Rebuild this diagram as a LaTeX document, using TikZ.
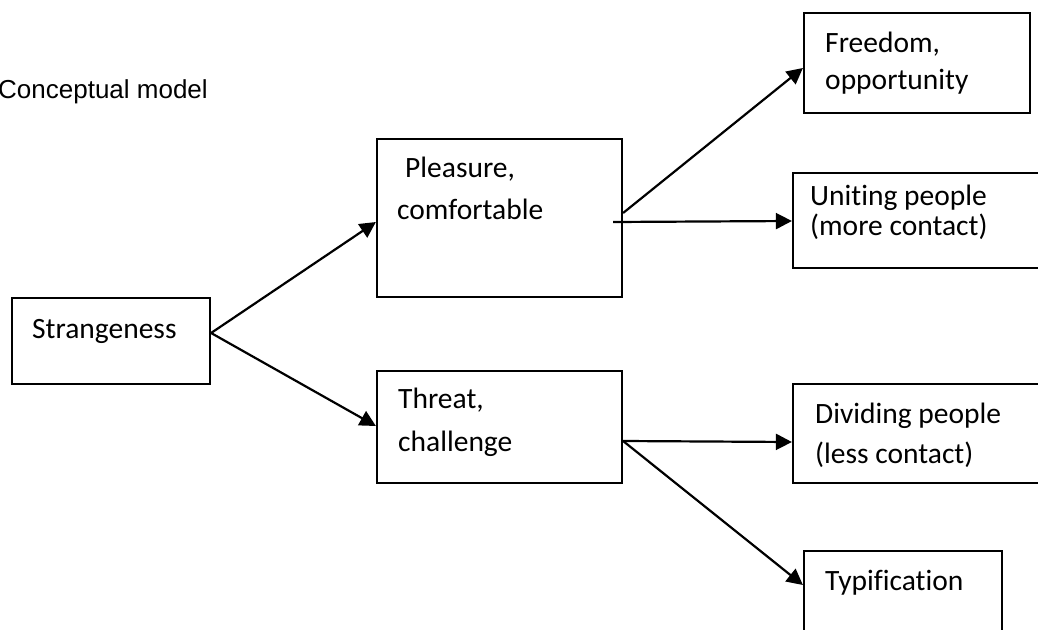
\documentclass[tikz,border=0pt]{standalone}
\usepackage{fontspec}
\setmainfont{Carlito}[Ligatures={NoCommon}]
\newfontfamily\arialfont{Liberation Sans}
\usetikzlibrary{arrows.meta}
\tikzset{
  boxnode/.style={draw=black, line width=2.2pt, rectangle, inner sep=0pt, fill=none},
  txt/.style={anchor=base west, inner sep=0pt, align=left},
  conn/.style={draw=black, line width=2.2pt, -{Triangle[length=16pt,width=16pt]}}
}
\begin{document}
\begin{tikzpicture}[x=1pt,y=-1pt]
\clip (0,0) rectangle (1038,629);
\fill[white] (0,0) rectangle (1038,629);
% title
\node[txt, font=\arialfont\fontsize{26}{30}\selectfont] (title) at (-2,98) {Conceptual model};
% boxes
\node[boxnode, minimum width=198pt, minimum height=86pt] (S) at (111,341) {};
\node[boxnode, minimum width=245pt, minimum height=158pt] (P) at (499.5,218) {};
\node[boxnode, minimum width=245pt, minimum height=112pt] (T) at (499.5,427) {};
\node[boxnode, minimum width=226pt, minimum height=100pt] (F) at (917,63) {};
\node[boxnode, minimum width=257pt, minimum height=95pt] (U) at (921.5,220.5) {};
\node[boxnode, minimum width=257pt, minimum height=99pt] (D) at (921.5,433.5) {};
\node[boxnode, minimum width=198pt, minimum height=99pt] (Ty) at (903,600.5) {};
% texts (anchor is on the baseline of the last line)
\node[txt, font=\fontsize{29.5}{42}\selectfont] (Stxt) at (32,338) {Strangeness};
\node[txt, font=\fontsize{29.5}{42}\selectfont] (Ptxt) at (397,219) {\hspace*{8pt}Pleasure,\\comfortable};
\node[txt, font=\fontsize{29.5}{43}\selectfont] (Ttxt) at (398,451) {Threat,\\challenge};
\node[txt, font=\fontsize{29.5}{37}\selectfont] (Ftxt) at (825,89) {Freedom,\\opportunity};
\node[txt, font=\fontsize{29.5}{30}\selectfont] (Utxt) at (810,235) {Uniting people\\(more contact)};
\node[txt, font=\fontsize{29.5}{40}\selectfont] (Dtxt) at (815,463) {Dividing people\\(less contact)};
\node[txt, font=\fontsize{29.5}{40}\selectfont] (Tytxt) at (825,590) {Typification};
% connectors
\draw[conn] ([yshift=8pt]S.east) -- ([yshift=-4pt]P.west);
\draw[conn] ([yshift=8pt]S.east) -- ([yshift=1pt]T.west);
\draw[conn] ([yshift=5pt]P.east) -- ([yshift=-5pt]F.west);
\draw[conn] ([shift={(-10pt,-4pt)}]P.east) -- ([yshift=-0.5pt]U.west);
\draw[conn] ([yshift=-14pt]T.east) -- ([yshift=-8.5pt]D.west);
\draw[conn] ([yshift=-14pt]T.east) -- ([yshift=15.5pt]Ty.west);
\end{tikzpicture}
\end{document}
